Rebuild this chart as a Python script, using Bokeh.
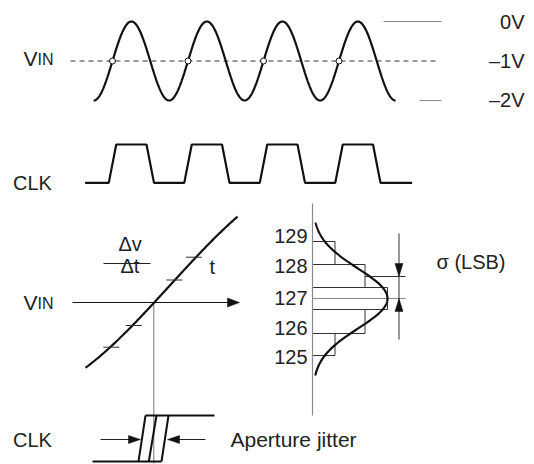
import numpy as np
from bokeh.plotting import figure
from bokeh.models import Range1d
from bokeh.core.properties import value
from bokeh.embed import file_html
from bokeh.resources import INLINE

# ---------------- data (diagram units = picture pixels) ----------------
# top: input sine and sampling instants
period = 75.5
sample_x = [112.0, 187.5, 263.0, 338.5]
sine_mid, sine_amp = 60.5, 39.5
n_cycles = 4
volt_labels = ["0V", "\u20131V", "\u20132V"]
volt_label_y = [21, 60.5, 99.5]
ref_line_x0 = [383, 419]
ref_line_x1 = [441, 441]
ref_line_y = [21, 100]
dash_x = [70, 436]

# clock
clk_low, clk_high = 182.4, 144.0
clk_start, clk_end = 84.6, 411.6
clk_edge_w = 7.5
n_edges = 8

# middle: slope of VIN at the sampling point (read points)
curve_x = [85, 110, 130, 153, 177, 200, 220, 237]
curve_y = [367, 347, 327, 302, 277, 252, 232, 216]
tick_cx = [110.8, 133.3, 173.8, 193.3]
tick_cy = [346.7, 325.0, 279.5, 256.7]
tick_hw = 8
axis_y, axis_x0, axis_x1 = 302, 72, 239
center_x = 153.3
center_y1 = 463

# histogram of output codes
codes = ["129", "128", "127", "126", "125"]
code_label_y = [235, 265, 297, 327, 356]
bin_top = [241, 264, 287, 309, 333]
bin_bot = [264, 287, 309, 333, 355]
counts = [3, 7, 10, 7, 3]
count_scale = 7.5
hist_axis_x = 312
hist_axis_y = [203, 415]
gauss_center, gauss_sigma, gauss_peak = 298, 30, 75
gauss_y = [222, 375]
sigma_x = 398.5
sigma_top_y, sigma_bot_y = 276, 298
sigma_line = [233, 339]
sigma_ref_x1 = 405

# bottom clock with aperture jitter
bclk_low, bclk_high = 461, 415
bclk_low_x = [92, 161]
bclk_high_x = [145, 214]
edge_bot_x = [138, 148.3, 161]
edge_top_x = [145, 156, 168]
jit_y = 439
jit_left = [100, 140]
jit_right = [205, 167]

FONT = value("Liberation Sans")
TXT = "#222222"

p = figure(width=534, height=464, x_range=Range1d(0, 534), y_range=Range1d(464, 0),
           output_backend="svg", toolbar_location=None, min_border=0,
           x_axis_type=None, y_axis_type=None)
p.grid.visible = False
p.outline_line_color = None
p.background_fill_color = "white"


def arrow_head(tx, ty, dx, dy, length, hw):
    bx, by = tx - dx * length, ty - dy * length
    nx, ny = -dy, dx
    return [tx, bx + nx * hw, bx - nx * hw], [ty, by + ny * hw, by - ny * hw]


def label(x, y, s, size="20px", align="left"):
    p.text([x], [y], text=[s], text_align=align, text_baseline="middle",
           text_font=FONT, text_font_size=size, text_color=TXT)


heads_x, heads_y = [], []

# ---- top sine ----
x0 = sample_x[0] - period / 4
xs = np.linspace(x0, x0 + n_cycles * period, 600)
ys = sine_mid - sine_amp * np.sin(2 * np.pi * (xs - sample_x[0]) / period)
p.line(dash_x, [sine_mid, sine_mid], line_color="#333333", line_width=1, line_dash="5 4")
p.line(xs, ys, line_color="#111111", line_width=2.2)
p.scatter(sample_x, [sine_mid] * len(sample_x), size=6, fill_color="white",
          line_color="#111111", line_width=1)
p.segment(ref_line_x0, ref_line_y, ref_line_x1, ref_line_y, line_color="#8a8a8a", line_width=1.2)
for s, y in zip(volt_labels, volt_label_y):
    label(524, y, s, align="right")

# ---- clock ----
cx, cy = [clk_start], [clk_low]
level = clk_low
for k in range(n_edges):
    m = sample_x[0] + k * period / 2
    nxt = clk_high if level == clk_low else clk_low
    cx += [m - clk_edge_w / 2, m + clk_edge_w / 2]
    cy += [level, nxt]
    level = nxt
cx.append(clk_end)
cy.append(level)
p.line(cx, cy, line_color="#111111", line_width=2.2)

# ---- middle: slope ----
p.segment([center_x], [axis_y], [center_x], [center_y1], line_color="#777777", line_width=1)
p.segment([axis_x0], [axis_y], [axis_x1 - 8], [axis_y], line_color="#111111", line_width=1)
hx, hy = arrow_head(axis_x1, axis_y, 1, 0, 12, 4.5)
heads_x.append(hx); heads_y.append(hy)
coef = np.polyfit(curve_x, curve_y, 3)
sx = np.linspace(curve_x[0], curve_x[-1], 200)
p.line(sx, np.polyval(coef, sx), line_color="#111111", line_width=2.2)
p.segment([c - tick_hw for c in tick_cx], tick_cy, [c + tick_hw for c in tick_cx], tick_cy,
          line_color="#333333", line_width=1)
p.segment([103], [263], [150], [263], line_color="#222222", line_width=1)
label(118, 243, "\u0394v")
label(120, 265.5, "\u0394t")
label(209, 266, "t")

# ---- histogram ----
rights = [hist_axis_x + c * count_scale for c in counts]
p.quad(left=[hist_axis_x] * len(counts), right=rights, top=bin_top, bottom=bin_bot,
       fill_color=None, line_color="#333333", line_width=1)
p.segment([hist_axis_x], [gauss_center], [sigma_ref_x1], [gauss_center], line_color="#8a8a8a", line_width=1)
p.segment([rights[1]], [sigma_top_y], [sigma_ref_x1], [sigma_top_y], line_color="#333333", line_width=1)
p.segment([hist_axis_x], [hist_axis_y[0]], [hist_axis_x], [hist_axis_y[1]], line_color="#8a8a8a", line_width=1.2)
gy = np.linspace(gauss_y[0], gauss_y[1], 300)
gx = hist_axis_x + gauss_peak * np.exp(-(gy - gauss_center) ** 2 / (2 * gauss_sigma ** 2))
p.line(gx, gy, line_color="#111111", line_width=2.2)
p.segment([sigma_x], [sigma_line[0]], [sigma_x], [sigma_line[1]], line_color="#333333", line_width=1)
hx, hy = arrow_head(sigma_x, sigma_top_y, 0, 1, 13, 4)
heads_x.append(hx); heads_y.append(hy)
hx, hy = arrow_head(sigma_x, sigma_bot_y, 0, -1, 13, 4)
heads_x.append(hx); heads_y.append(hy)
for s, y in zip(codes, code_label_y):
    label(hist_axis_x - 5, y, s, align="right")
label(436, 261, "\u03c3 (LSB)")

# ---- bottom clock ----
p.segment([bclk_low_x[0]], [bclk_low], [bclk_low_x[1]], [bclk_low], line_color="#111111", line_width=2.2)
p.segment([bclk_high_x[0]], [bclk_high], [bclk_high_x[1]], [bclk_high], line_color="#111111", line_width=2.2)
p.segment(edge_bot_x, [bclk_low] * 3, edge_top_x, [bclk_high] * 3, line_color="#111111", line_width=2)
p.segment([jit_left[0]], [jit_y], [jit_left[1] - 10], [jit_y], line_color="#222222", line_width=1)
p.segment([jit_right[0]], [jit_y], [jit_right[1] + 10], [jit_y], line_color="#222222", line_width=1)
hx, hy = arrow_head(jit_left[1], jit_y, 1, 0, 12, 4)
heads_x.append(hx); heads_y.append(hy)
hx, hy = arrow_head(jit_right[1], jit_y, -1, 0, 12, 4)
heads_x.append(hx); heads_y.append(hy)
label(230, 439, "Aperture jitter", size="21px")

p.patches(heads_x, heads_y, fill_color="#111111", line_color="#111111", line_width=0.5)

# ---- left labels ----
label(12.5, 182.5, "CLK")
label(12.5, 439.5, "CLK")
label(23, 57.5, "V", size="21px")
label(37, 59.3, "IN", size="16px")
label(23, 301.5, "V", size="21px")
label(37, 303.3, "IN", size="16px")

open("out.html", "w").write(file_html(p, INLINE))
